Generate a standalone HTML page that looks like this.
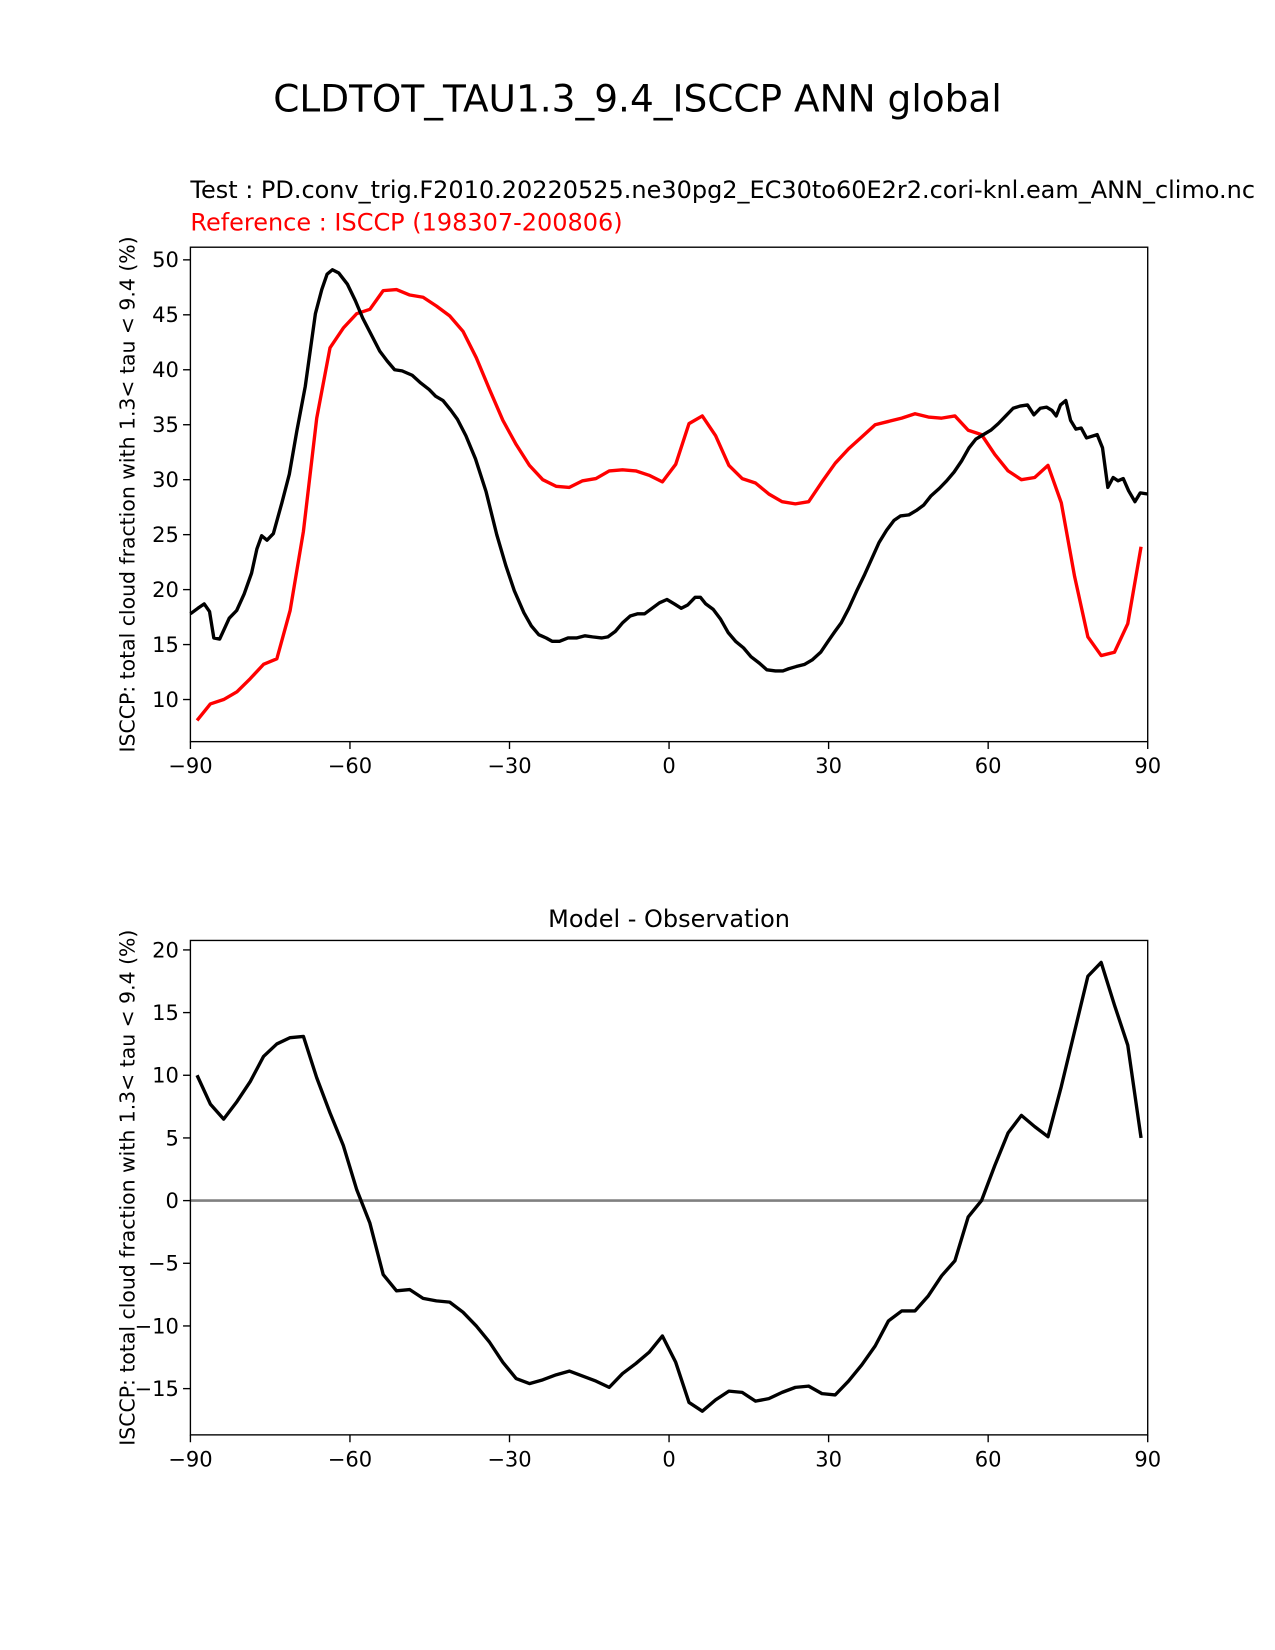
<!DOCTYPE html>
<html><head><meta charset="utf-8"><style>
body{margin:0;background:#fff}
svg{display:block;font-family:"DejaVu Sans","Liberation Sans",sans-serif}
</style></head><body>
<svg id="chart" width="1275" height="1650" viewBox="0 0 1212 1568.5" preserveAspectRatio="none">
<text x="606" y="106" font-size="35.6" text-anchor="middle">CLDTOT_TAU1.3_9.4_ISCCP ANN global</text>
<text x="181" y="188" font-size="22.8">Test : PD.conv_trig.F2010.20220525.ne30pg2_EC30to60E2r2.cori-knl.eam_ANN_climo.nc</text>
<text x="181" y="219" font-size="22.8" fill="#ff0000">Reference : ISCCP (198307-200806)</text>
<text x="636" y="881" font-size="22.8" text-anchor="middle">Model - Observation</text>
<g id="top"></g>
<g id="bot"></g>
</svg>
<script>
const modelLat=[-90,-88.6,-87.4,-86.4,-85.6,-84.5,-82.7,-81.3,-79.9,-78.5,-77.5,-76.6,-75.6,-74.4,-72.8,-71.4,-70,-68.4,-66.5,-65.3,-64.3,-63.3,-62.1,-60.5,-59,-57.6,-56,-54.4,-53,-51.6,-50.2,-48.3,-46.7,-45.1,-43.9,-42.5,-41,-39.8,-38.2,-36.4,-34.4,-32.4,-30.7,-29.1,-27.3,-25.9,-24.5,-23.1,-22,-20.6,-19,-17.4,-15.8,-14.4,-12.7,-11.5,-10.1,-8.7,-7.3,-5.9,-4.6,-3.2,-1.8,-0.4,1,2.3,3.5,4.9,5.9,6.9,8.3,9.7,11.1,12.5,14,15.4,17,18.4,20,21.4,22.5,23.9,25.5,26.9,28.5,29.9,31.2,32.4,33.8,35.4,36.8,38.2,39.5,40.9,42.3,43.5,45.1,46.5,47.9,49.2,50.8,52.2,53.6,55,56.4,57.7,59.1,60.5,61.9,63.3,64.7,66,67.4,68.6,69.8,71,72,72.8,73.6,74.6,75.5,76.5,77.5,78.5,80.5,81.5,82.5,83.5,84.4,85.4,86.4,87.6,88.6,90];
const modelVal=[17.8,18.3,18.7,18,15.6,15.5,17.4,18.1,19.6,21.5,23.7,24.9,24.5,25.1,27.9,30.5,34.4,38.5,45.1,47.3,48.7,49.1,48.8,47.8,46.3,44.7,43.2,41.7,40.8,40,39.9,39.5,38.8,38.2,37.6,37.2,36.3,35.5,34,31.9,28.9,25,22.2,19.9,17.9,16.7,15.9,15.6,15.3,15.3,15.6,15.6,15.8,15.7,15.6,15.7,16.2,17,17.6,17.8,17.8,18.3,18.8,19.1,18.7,18.3,18.6,19.3,19.3,18.7,18.2,17.3,16.1,15.3,14.7,13.9,13.3,12.7,12.6,12.6,12.8,13,13.2,13.6,14.3,15.3,16.2,17,18.3,20,21.4,22.9,24.3,25.4,26.3,26.7,26.8,27.2,27.7,28.5,29.2,29.9,30.7,31.7,32.9,33.7,34.1,34.5,35.1,35.8,36.5,36.7,36.8,35.9,36.5,36.6,36.3,35.8,36.8,37.2,35.4,34.6,34.7,33.8,34.1,32.9,29.3,30.2,29.9,30.1,29,28,28.8,28.7];
const obsLat=[-88.75,-86.25,-83.75,-81.25,-78.75,-76.25,-73.75,-71.25,-68.75,-66.25,-63.75,-61.25,-58.75,-56.25,-53.75,-51.25,-48.75,-46.25,-43.75,-41.25,-38.75,-36.25,-33.75,-31.25,-28.75,-26.25,-23.75,-21.25,-18.75,-16.25,-13.75,-11.25,-8.75,-6.25,-3.75,-1.25,1.25,3.75,6.25,8.75,11.25,13.75,16.25,18.75,21.25,23.75,26.25,28.75,31.25,33.75,36.25,38.75,41.25,43.75,46.25,48.75,51.25,53.75,56.25,58.75,61.25,63.75,66.25,68.75,71.25,73.75,76.25,78.75,81.25,83.75,86.25,88.75];
const obsVal=[8.1,9.6,10,10.7,11.9,13.2,13.7,18.1,25.3,35.6,42,43.8,45.1,45.5,47.2,47.3,46.8,46.6,45.8,44.9,43.5,41.1,38.2,35.4,33.2,31.3,30,29.4,29.3,29.9,30.1,30.8,30.9,30.8,30.4,29.8,31.4,35.1,35.8,34,31.3,30.1,29.7,28.7,28,27.8,28,29.8,31.5,32.8,33.9,35,35.3,35.6,36,35.7,35.6,35.8,34.5,34.1,32.3,30.8,30,30.2,31.3,27.9,21.2,15.7,14,14.3,16.9,23.9];
const diffVal=[10,7.7,6.5,7.9,9.5,11.5,12.5,13,13.1,9.8,7,4.4,0.9,-1.8,-5.9,-7.2,-7.1,-7.8,-8,-8.1,-8.9,-10,-11.3,-12.9,-14.2,-14.6,-14.3,-13.9,-13.6,-14,-14.4,-14.9,-13.8,-13,-12.1,-10.8,-12.9,-16.1,-16.8,-15.9,-15.2,-15.3,-16,-15.8,-15.3,-14.9,-14.8,-15.4,-15.5,-14.4,-13.1,-11.6,-9.6,-8.8,-8.8,-7.6,-6,-4.8,-1.3,0,2.8,5.4,6.8,5.9,5.1,9.1,13.5,17.9,19,15.6,12.4,5];
const xTicks=[-90,-60,-30,0,30,60,90];
const topYTicks=[10,15,20,25,30,35,40,45,50];
const botYTicks=[-15,-10,-5,0,5,10,15,20];
const NS='http://www.w3.org/2000/svg';
function mk(parent,tag,attrs){const e=document.createElementNS(NS,tag);for(const k in attrs)e.setAttribute(k,attrs[k]);parent.appendChild(e);return e;}
const L=181,R=1091;
function xs(v){return L+(v+90)/180*(R-L);}
function fmt(v){return v<0?'\u2212'+Math.abs(v):String(v);}
function panel(g,top,bot,ymin,ymax,yt){
  const ys=v=>bot-(v-ymin)/(ymax-ymin)*(bot-top);
  xTicks.forEach(t=>{
    const l=mk(g,'line',{x1:xs(t),x2:xs(t),y1:bot,y2:bot+7,stroke:'#000','stroke-width':1.3});
    
    
    const tx=mk(g,'text',{x:xs(t),y:bot+30,'font-size':20,'text-anchor':'middle'});tx.textContent=fmt(t);
    
    
  });
  yt.forEach(t=>{
    const l=mk(g,'line',{x1:L-7,x2:L,y1:ys(t),y2:ys(t),stroke:'#000','stroke-width':1.3});
    
    
    const tx=mk(g,'text',{x:L-11,y:ys(t)+7,'font-size':20,'text-anchor':'end'});tx.textContent=fmt(t);
    
    
  });
  const yl=mk(g,'text',{x:0,y:0,'font-size':19.4,'text-anchor':'middle',transform:`translate(128,${(top+bot)/2}) rotate(-90)`});
  yl.textContent='ISCCP: total cloud fraction with 1.3< tau < 9.4 (%)';
  
  
  return ys;
}
function line(g,xsArr,vals,ys,color,name){
  const p=mk(g,'polyline',{points:xsArr.map((x,i)=>xs(x)+','+ys(vals[i])).join(' '),fill:'none',stroke:color,'stroke-width':3.2,'stroke-linejoin':'round'});
  
  
}
const gt=document.getElementById('top');
const ys1=panel(gt,235,705,6.17,51.15,topYTicks);
line(gt,obsLat,obsVal,ys1,'#ff0000','reference-line');
line(gt,modelLat,modelVal,ys1,'#000000','test-line');
const f1=mk(gt,'rect',{x:L,y:235,width:R-L,height:470,fill:'none',stroke:'#000','stroke-width':1.3});


const gb=document.getElementById('bot');
const ys2=panel(gb,894,1364,-18.69,20.755,botYTicks);
const z=mk(gb,'line',{x1:L,x2:R,y1:ys2(0),y2:ys2(0),stroke:'#808080','stroke-width':2.5});


line(gb,obsLat,diffVal,ys2,'#000000','difference-line');
const f2=mk(gb,'rect',{x:L,y:894,width:R-L,height:470,fill:'none',stroke:'#000','stroke-width':1.3});


</script>
</body></html>
